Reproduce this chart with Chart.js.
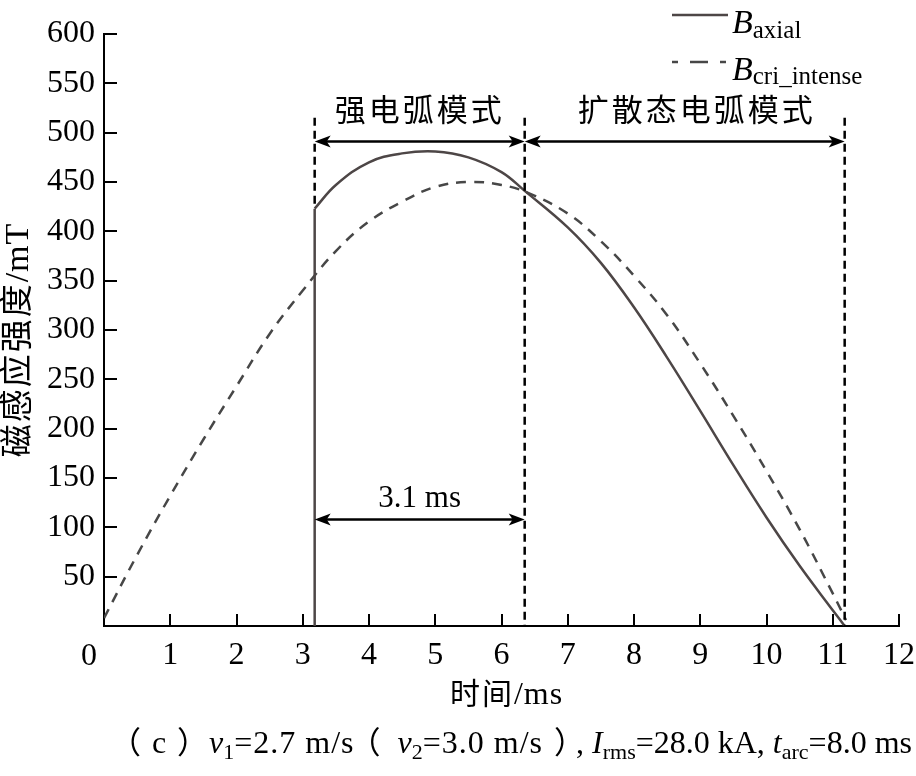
<!DOCTYPE html>
<html>
<head>
<meta charset="utf-8">
<script src="https://cdn.jsdelivr.net/npm/chart.js@4.4.1/dist/chart.umd.min.js"></script>
<style>
  html, body { margin: 0; padding: 0; background: #fff; }
  #wrap { width: 916px; height: 776px; }
</style>
</head>
<body>
<div id="wrap"><canvas id="chart"></canvas></div>
<script>
/* ── data ───────────────────────────────────────────── */
// B_axial: jumps up at arc onset, then follows the curve
const onsetTime = [3.18, 3.18];
const onsetB    = [0, 423];
const axialTime = [3.18, 3.5, 4.0, 4.5, 5.0, 5.5, 6.0, 6.35, 7.0, 7.5, 8.0, 8.5, 9.0, 9.5, 10.0, 10.5, 11.0, 11.18];
const axialB    = [423, 447, 470, 479, 481, 475, 460, 441, 404, 368, 323, 272, 218, 163, 110, 61, 16, 0];
// B_cri_intense
const critTime = [0, 0.5, 1, 1.5, 2, 2.5, 3, 3.5, 4, 4.5, 5, 5.5, 6, 6.4, 7, 7.5, 8, 8.5, 9, 9.5, 10, 10.5, 11, 11.2];
const critB    = [8, 72, 132, 189, 243, 296, 340, 380, 410, 430, 445, 450, 447, 439, 418, 390, 355, 315, 266, 213, 157, 98, 33, 6];

const xTicks = [0, 1, 2, 3, 4, 5, 6, 7, 8, 9, 10, 11, 12];
const yTicks = [50, 100, 150, 200, 250, 300, 350, 400, 450, 500, 550, 600];

// mode boundaries and annotations
const boundTime  = [3.18, 6.35, 11.18];
const boundTop   = [515, 515, 515];
const boundBot   = [423, 0, 0];
const modeLabels = ['强电弧模式', '扩散态电弧模式'];
const modeArrowB = 491;
const durLabel   = '3.1 ms';
const durArrowB  = 108;

const SERIF = '"Liberation Serif", "Times New Roman", serif';
const CJK   = '"Noto Sans CJK SC", sans-serif';
const SOLID = '#4d4646';
const DASH  = '#474747';

const toXY = (xs, ys) => xs.map((v, i) => ({ x: v, y: ys[i] }));

/* ── helpers ────────────────────────────────────────── */
// runs with ink:[before, after] are placed by their glyph ink (fullwidth brackets)
function layoutRuns(ctx, runs, x, base, draw) {
  runs.forEach(r => {
    ctx.font = r.f;
    ctx.letterSpacing = r.ls || '0px';
    const m = ctx.measureText(r.t);
    if (r.ink) {
      const xd = x + r.ink[0] + m.actualBoundingBoxLeft;
      if (draw) ctx.fillText(r.t, xd, base + (r.dy || 0));
      x = xd + m.actualBoundingBoxRight + r.ink[1];
    } else {
      if (draw) ctx.fillText(r.t, x, base + (r.dy || 0));
      x += m.width;
    }
  });
  ctx.letterSpacing = '0px';
  return x;
}
const drawRuns  = (ctx, runs, x, base) => layoutRuns(ctx, runs, x, base, true);
const runsWidth = (ctx, runs) => layoutRuns(ctx, runs, 0, 0, false);

function arrow(ctx, x1, x2, py) {
  const L = 16, H = 6;
  ctx.beginPath(); ctx.moveTo(x1 + 4, py); ctx.lineTo(x2 - 4, py); ctx.stroke();
  ctx.beginPath(); ctx.moveTo(x1, py); ctx.lineTo(x1 + L, py - H); ctx.lineTo(x1 + L - 4, py); ctx.lineTo(x1 + L, py + H); ctx.closePath(); ctx.fill();
  ctx.beginPath(); ctx.moveTo(x2, py); ctx.lineTo(x2 - L, py - H); ctx.lineTo(x2 - L + 4, py); ctx.lineTo(x2 - L, py + H); ctx.closePath(); ctx.fill();
}

/* ── overlay: inward ticks, annotations, titles, legend ── */
const overlay = {
  id: 'overlay',
  afterDraw(chart) {
    const { ctx, chartArea: a, scales: { x, y } } = chart;
    ctx.save();

    // inward ticks
    ctx.strokeStyle = '#000'; ctx.lineWidth = 2; ctx.setLineDash([]);
    yTicks.forEach(v => {
      const py = Math.round(y.getPixelForValue(v));
      ctx.beginPath(); ctx.moveTo(a.left, py); ctx.lineTo(a.left + 13, py); ctx.stroke();
    });
    xTicks.slice(1).forEach(v => {
      const px = Math.round(x.getPixelForValue(v));
      ctx.beginPath(); ctx.moveTo(px, a.bottom); ctx.lineTo(px, a.bottom - 12); ctx.stroke();
    });

    // origin label
    ctx.fillStyle = '#000';
    ctx.font = '32px ' + SERIF; ctx.textAlign = 'center'; ctx.textBaseline = 'alphabetic';
    ctx.fillText('0', x.getPixelForValue(0) - 15, 665);

    // mode boundaries
    ctx.lineWidth = 2.5; ctx.setLineDash([8, 5]); ctx.strokeStyle = '#000';
    boundTime.forEach((t, i) => {
      const px = x.getPixelForValue(t);
      ctx.beginPath(); ctx.moveTo(px, y.getPixelForValue(boundTop[i])); ctx.lineTo(px, y.getPixelForValue(boundBot[i])); ctx.stroke();
    });
    ctx.setLineDash([]); ctx.lineWidth = 2.5; ctx.fillStyle = '#000';
    const my = y.getPixelForValue(modeArrowB);
    for (let i = 0; i < 2; i++) {
      const x1 = x.getPixelForValue(boundTime[i]), x2 = x.getPixelForValue(boundTime[i + 1]);
      arrow(ctx, x1, x2, my);
      ctx.font = '31px ' + CJK; ctx.letterSpacing = '3px';
      ctx.textAlign = 'center'; ctx.textBaseline = 'middle';
      ctx.fillText(modeLabels[i], (x1 + x2) / 2 + (i ? 12 : 0), my - 32);
    }
    ctx.letterSpacing = '0px';
    const dy = y.getPixelForValue(durArrowB);
    const d1 = x.getPixelForValue(boundTime[0]), d2 = x.getPixelForValue(boundTime[1]);
    arrow(ctx, d1, d2, dy);
    ctx.font = '31px ' + SERIF; ctx.textBaseline = 'alphabetic';
    ctx.fillText(durLabel, (d1 + d2) / 2, dy - 12);

    // axis titles
    ctx.textAlign = 'left'; ctx.textBaseline = 'alphabetic';
    const xt = [{ t: '时间', f: '30px ' + CJK, ls: '2px' }, { t: '/ms', f: '32px ' + SERIF, ls: '1px' }];
    let w = runsWidth(ctx, xt);
    drawRuns(ctx, xt, (a.left + a.right) / 2 - w / 2 + 5, 704);

    ctx.save();
    ctx.translate(28, 340); ctx.rotate(-Math.PI / 2);
    const yt = [{ t: '磁感应强度', f: '33px ' + CJK, ls: '2px' }, { t: '/mT', f: '34px ' + SERIF, ls: '1px' }];
    w = runsWidth(ctx, yt);
    drawRuns(ctx, yt, -w / 2, 0);
    ctx.restore();

    // caption
    const R = '32px ' + SERIF, I = 'italic 32px ' + SERIF, S = '22px ' + SERIF, C = '31px ' + CJK;
    const cap = [
      { t: '（', f: C, ink: [0, 12] }, { t: 'c', f: R }, { t: '）', f: C, ink: [12, 22] },
      { t: 'v', f: I }, { t: '1', f: S, dy: 6 }, { t: '=2.7 m/s', f: R, ls: '1px' },
      { t: '（', f: C, ink: [16, 18] }, { t: 'v', f: I }, { t: '2', f: S, dy: 6 }, { t: '=3.0 m/s', f: R, ls: '1px' },
      { t: '）', f: C, ink: [12, 12] },
      { t: ', ', f: R }, { t: 'I', f: I }, { t: 'rms', f: S, dy: 6 }, { t: '=28.0 kA, ', f: R },
      { t: 't', f: I }, { t: 'arc', f: S, dy: 6 }, { t: '=8.0 ms', f: R }
    ];
    w = runsWidth(ctx, cap);
    drawRuns(ctx, cap, 912 - w, 753);

    // legend
    ctx.strokeStyle = SOLID; ctx.lineWidth = 2.5; ctx.setLineDash([]);
    ctx.beginPath(); ctx.moveTo(672, 15); ctx.lineTo(728, 15); ctx.stroke();
    ctx.strokeStyle = DASH; ctx.setLineDash([6, 12, 18, 12]);
    ctx.beginPath(); ctx.moveTo(672, 62); ctx.lineTo(728, 62); ctx.stroke();
    ctx.setLineDash([]);
    ctx.fillStyle = '#000';
    drawRuns(ctx, [{ t: 'B', f: 'italic 34px ' + SERIF }, { t: 'axial', f: '25px ' + SERIF, dy: 5 }], 732, 33);
    drawRuns(ctx, [{ t: 'B', f: 'italic 34px ' + SERIF }, { t: 'cri_intense', f: '25px ' + SERIF, dy: 4 }], 732, 80);

    ctx.restore();
  }
};

/* ── chart ──────────────────────────────────────────── */
const tickFont = { family: SERIF, size: 32 };

new Chart(document.getElementById('chart'), {
  type: 'line',
  data: {
    datasets: [
      {
        label: 'B_axial onset',
        data: toXY(onsetTime, onsetB),
        borderColor: SOLID, borderWidth: 2.5, pointRadius: 0, tension: 0
      },
      {
        label: 'B_axial',
        data: toXY(axialTime, axialB),
        borderColor: SOLID, borderWidth: 2.5, pointRadius: 0, tension: 0.4
      },
      {
        label: 'B_cri_intense',
        data: toXY(critTime, critB),
        borderColor: DASH, borderWidth: 2.5, pointRadius: 0, borderDash: [10, 8], tension: 0.4
      }
    ]
  },
  options: {
    responsive: true, maintainAspectRatio: false, animation: false, devicePixelRatio: 1,
    layout: { padding: { top: 34, right: 17, left: 0, bottom: 0 } },
    plugins: { legend: { display: false }, tooltip: { enabled: false } },
    scales: {
      x: {
        type: 'linear', min: 0, max: 12,
        afterBuildTicks: s => { s.ticks = xTicks.map(v => ({ value: v })); },
        afterFit: s => { s.height = 150; s.paddingLeft = 0; s.paddingRight = 0; },
        ticks: { font: tickFont, color: '#000', padding: 10, maxRotation: 0, autoSkip: false,
                 callback: v => v === 0 ? '' : v },
        grid: { drawOnChartArea: false, drawTicks: false },
        border: { color: '#000', width: 2 }
      },
      y: {
        min: 0, max: 600,
        afterBuildTicks: s => { s.ticks = [0].concat(yTicks).map(v => ({ value: v })); },
        afterFit: s => { s.width = 104; s.paddingTop = 0; s.paddingBottom = 0; },
        ticks: { font: tickFont, color: '#000', padding: 9, callback: v => v === 0 ? '' : v },
        grid: { drawOnChartArea: false, drawTicks: false },
        border: { color: '#000', width: 2 }
      }
    }
  },
  plugins: [overlay]
});
</script>
</body>
</html>
